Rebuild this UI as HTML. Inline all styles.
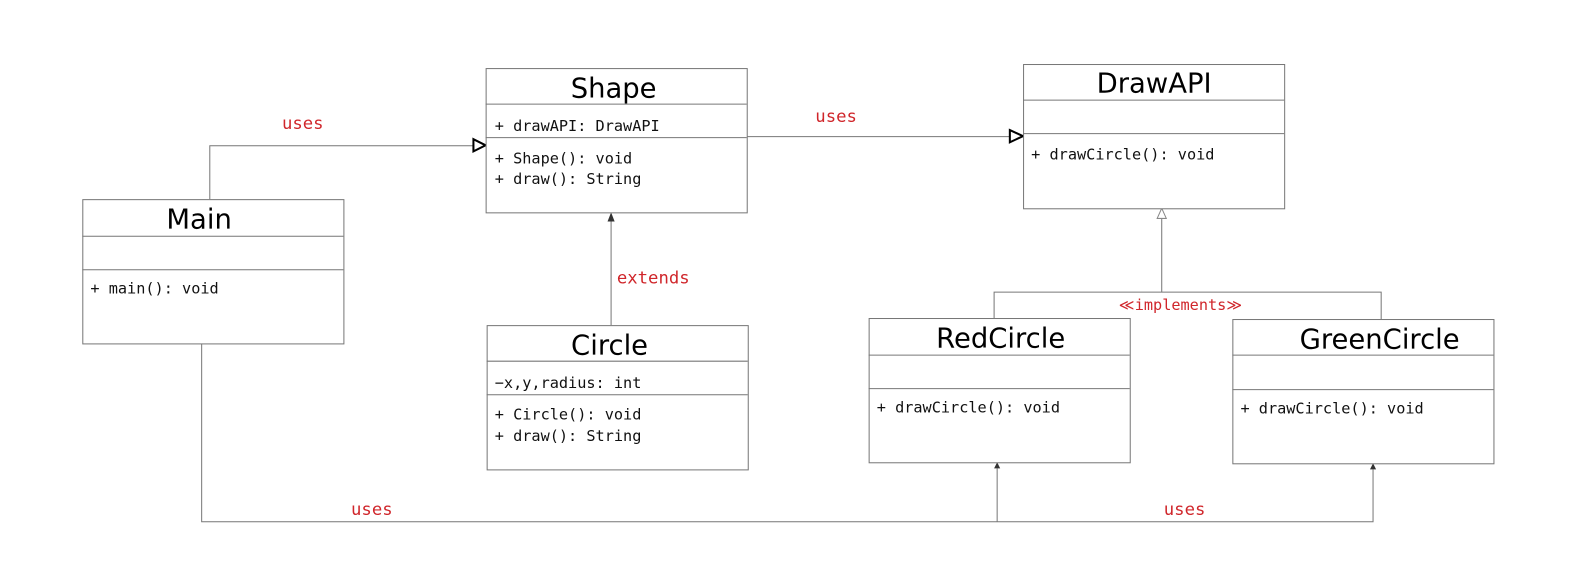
<!DOCTYPE html>
<html><head><meta charset="utf-8"><style>
html,body{margin:0;padding:0;background:#fff;overflow:hidden;width:1593px;height:572px}
svg{display:block;position:absolute;left:0;top:0}
.t{font-family:"Comic Sans MS","DejaVu Sans",sans-serif;font-size:27px;fill:#000;text-anchor:middle}
.m{font-family:"DejaVu Sans Mono","Liberation Mono",monospace;font-size:15px;fill:#111}
.r{font-family:"DejaVu Sans Mono","Liberation Mono",monospace;font-size:17px;fill:#d0262b;text-anchor:middle}
.b{fill:#fff;stroke:#777;stroke-width:1}
.l{stroke:#777;stroke-width:1;fill:none}
</style></head><body>
<svg width="1593" height="572" viewBox="0 0 1568 563" preserveAspectRatio="none">
<path class="l" d="M206.5 196V143.5H470"/>
<path d="M466 137L478 143L466 149Z" fill="#fff" stroke="#000" stroke-width="2"/>
<path class="l" d="M735 134.5H995"/>
<path d="M994 128L1007 134L994 140Z" fill="#fff" stroke="#000" stroke-width="2"/>
<path class="l" d="M601.5 320V215"/>
<path d="M598 218L601.5 209L605 218Z" fill="#333"/>
<path class="l" d="M1143.5 214V287.5M978.5 313V287.5H1359.5V314"/>
<path d="M1139 215L1143.5 205L1148 215Z" fill="#fff" stroke="#888"/>
<path class="l" d="M198.5 338V513.5H1351.5V462M981.5 513V461"/>
<path d="M978.5 461L981.5 455L984.5 461Z" fill="#333"/>
<path d="M1348.5 462L1351.5 456L1354.5 462Z" fill="#333"/>
<rect class="b" x="81.5" y="196.5" width="257" height="142"/>
<path class="l" d="M81 232.5H338M81 265.5H338"/>
<text class="t" x="196" y="225">Main</text>
<text class="m" x="89" y="289">+ main(): void</text>
<rect class="b" x="478.5" y="67.5" width="257" height="142"/>
<path class="l" d="M478 102.5H735M478 135.5H735"/>
<text class="t" x="604" y="96">Shape</text>
<text class="m" x="487" y="129">+ drawAPI: DrawAPI</text>
<text class="m" x="487" y="161">+ Shape(): void</text>
<text class="m" x="487" y="181">+ draw(): String</text>
<rect class="b" x="479.5" y="320.5" width="257" height="142"/>
<path class="l" d="M479 355.5H736M479 388.5H736"/>
<text class="t" x="600" y="349">Circle</text>
<text class="m" x="487" y="382">−x,y,radius: int</text>
<text class="m" x="487" y="413">+ Circle(): void</text>
<text class="m" x="487" y="434">+ draw(): String</text>
<rect class="b" x="1007.5" y="63.5" width="257" height="142"/>
<path class="l" d="M1007 98.5H1264M1007 131.5H1264"/>
<text class="t" x="1136" y="91">DrawAPI</text>
<text class="m" x="1015" y="157">+ drawCircle(): void</text>
<rect class="b" x="855.5" y="313.5" width="257" height="142"/>
<path class="l" d="M855 349.5H1112M855 382.5H1112"/>
<text class="t" x="985" y="342">RedCircle</text>
<text class="m" x="863" y="406">+ drawCircle(): void</text>
<rect class="b" x="1213.5" y="314.5" width="257" height="142"/>
<path class="l" d="M1213 349.5H1470M1213 383.5H1470"/>
<text class="t" x="1358" y="343">GreenCircle</text>
<text class="m" x="1221" y="407">+ drawCircle(): void</text>
<text class="r" x="298" y="127">uses</text>
<text class="r" x="823" y="120">uses</text>
<text class="r" x="643" y="279">extends</text>
<text class="r" x="1162" y="305" style="font-size:15px">≪implements≫</text>
<text class="r" x="366" y="507">uses</text>
<text class="r" x="1166" y="507">uses</text>
</svg>
</body></html>
